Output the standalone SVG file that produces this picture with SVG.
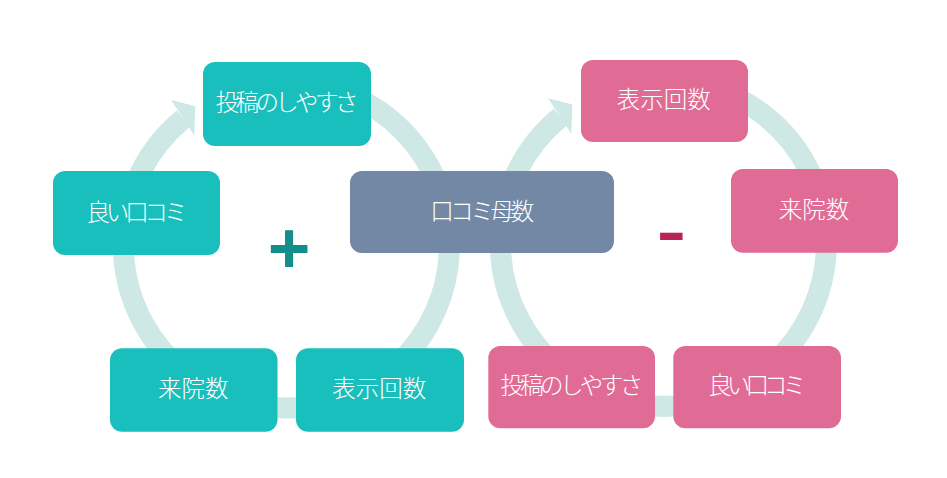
<svg xmlns="http://www.w3.org/2000/svg" width="947" height="478" viewBox="0 0 947 478">
<style>
.ring{fill:none;stroke:#CDE8E5;stroke-width:21}
.head{fill:#CDE8E5}
.teal{fill:#19BFBC}
.pink{fill:#E06C96}
.slate{fill:#7288A4}
.lbl{font-family:"Noto Sans CJK JP","Noto Sans",sans-serif;font-size:23.5px;font-weight:300;fill:#FFFFFF;text-anchor:middle}
</style>
<rect width="947" height="478" fill="#FFFFFF"/>
<g id="connectors">
  <g transform="translate(286.5,245)">
    <path class="ring" d="M 28.3 -160.5 A 163 163 0 1 1 -103.1 -126.3"/>
    <polygon class="head" points="-115.3,-145 -91.2,-138.7 -92.2,-109.2"/>
  </g>
  <g transform="translate(663.5,243.3)">
    <path class="ring" d="M 28.3 -160.5 A 163 163 0 1 1 -103.1 -126.3"/>
    <polygon class="head" points="-115.3,-145 -91.2,-138.7 -92.2,-109.2"/>
  </g>
</g>
<g id="L-toukou"><rect class="teal" x="203" y="62" width="168" height="84" rx="12"/><text class="lbl" x="287" y="110.5" textLength="143" lengthAdjust="spacing">投稿のしやすさ</text></g>
<g id="L-yoi"><rect class="teal" x="53" y="171" width="167" height="84" rx="12"/><text class="lbl" x="136.9" y="220.5" textLength="101" lengthAdjust="spacing">良い口コミ</text></g>
<g id="L-raiin"><rect class="teal" x="110" y="348.3" width="167.5" height="83.4" rx="12"/><text class="lbl" x="193.3" y="396.5">来院数</text></g>
<g id="L-hyouji"><rect class="teal" x="296" y="348.3" width="168" height="83.4" rx="12"/><text class="lbl" x="379.2" y="396.5">表示回数</text></g>
<g id="center"><rect class="slate" x="350" y="171" width="264" height="82" rx="12"/><text class="lbl" x="482.2" y="219.5" textLength="104" lengthAdjust="spacing">口コミ母数</text></g>
<g id="R-hyouji"><rect class="pink" x="581" y="60" width="167" height="82" rx="12"/><text class="lbl" x="663.7" y="108.2">表示回数</text></g>
<g id="R-raiin"><rect class="pink" x="731" y="169" width="167" height="83.7" rx="12"/><text class="lbl" x="814" y="218">来院数</text></g>
<g id="R-yoi"><rect class="pink" x="673.3" y="346" width="167.7" height="82.3" rx="12"/><text class="lbl" x="757.2" y="394" textLength="98" lengthAdjust="spacing">良い口コミ</text></g>
<g id="R-toukou"><rect class="pink" x="488.3" y="346" width="166.7" height="82.3" rx="12"/><text class="lbl" x="571.7" y="394" textLength="143" lengthAdjust="spacing">投稿のしやすさ</text></g>
<g id="plus"><text x="289" y="272.5" font-family="Liberation Sans, Arial, sans-serif" font-weight="bold" font-size="73" fill="#138E8A" text-anchor="middle">+</text></g>
<g id="minus"><text x="671.3" y="261" font-family="Liberation Sans, Arial, sans-serif" font-size="92" fill="#B8235A" text-anchor="middle">-</text></g>
</svg>
